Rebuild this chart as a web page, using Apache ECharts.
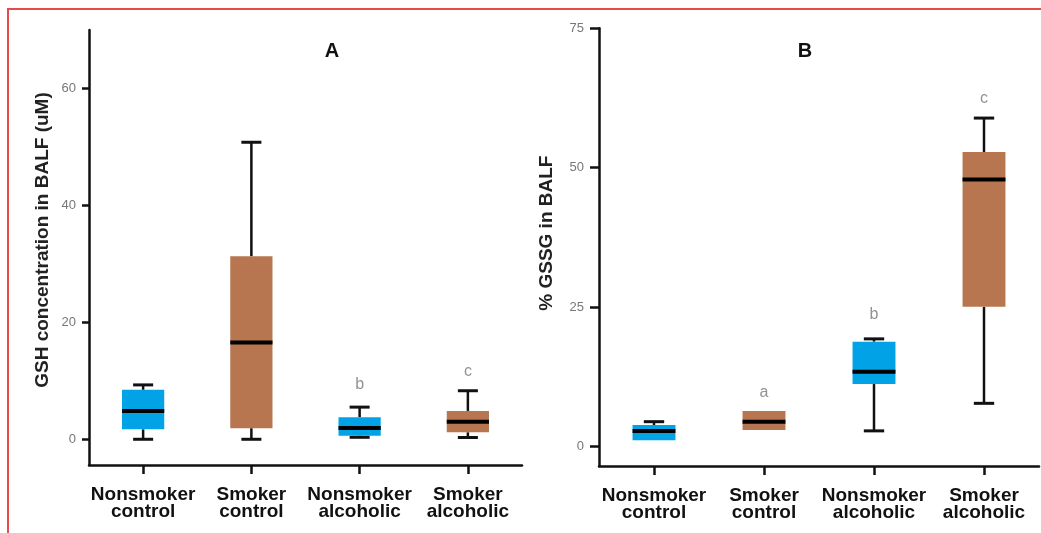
<!DOCTYPE html>
<html><head><meta charset="utf-8">
<script src="https://cdn.jsdelivr.net/npm/echarts@6/dist/echarts.min.js"></script>
<style>html,body{margin:0;padding:0;background:#fff}#c{width:1041px;height:533px}</style>
</head><body><div id="c"></div>
<script>
// ---------- data ----------
const categories = ['Nonsmoker\ncontrol', 'Smoker\ncontrol', 'Nonsmoker\nalcoholic', 'Smoker\nalcoholic'];

// Panel A: GSH concentration in BALF (uM)
const gshLow    = [0,    0,     0.34, 0.3];
const gshQ1     = [1.7,  1.9,   0.62, 1.2];
const gshMedian = [4.85, 16.55, 1.94, 3.0];
const gshQ3     = [8.45, 31.3,  3.77, 4.85];
const gshHigh   = [9.3,  50.8,  5.5,  8.3];
const gshLetters = ['', '', 'b', 'c'];
const gshLetterY = [null, null, 9.3, 11.6];
const gshTicks = [0, 20, 40, 60];

// Panel B: % GSSG in BALF
const gssgLow    = [1.1,  2.96, 2.8,  7.74];
const gssgQ1     = [1.1,  2.96, 11.2, 25.05];
const gssgMedian = [2.78, 4.45, 13.4, 47.9];
const gssgQ3     = [3.85, 6.36, 18.8, 52.8];
const gssgHigh   = [4.45, 6.36, 19.3, 58.9];
const gssgLetters = ['', 'a', 'b', 'c'];
const gssgLetterY = [null, 9.6, 23.6, 62.4];
const gssgTicks = [0, 25, 50, 75];

// ---------- styles ----------
const groupColors = ['#02a2e6', '#b7764f', '#02a2e6', '#b7764f'];
const FONT = 'Liberation Sans, Arial, sans-serif';
const INK = '#111';

function boxItem(params, api) {
  const i = api.value(0);
  const lo = api.value(1), q1 = api.value(2), md = api.value(3), q3 = api.value(4), hi = api.value(5);
  const band = api.size([1, 0])[0];
  const bw = band * 0.39, cw = band * 0.185;
  const y = v => api.coord([i, v])[1];
  const cx = api.coord([i, md])[0];
  const yLo = y(lo), yQ1 = y(q1), yMd = y(md), yQ3 = y(q3), yHi = y(hi);
  const children = [];
  const wl = {stroke: INK, lineWidth: 2.5};
  const cl = {stroke: INK, lineWidth: 3};
  if (hi > q3) {
    children.push({type: 'line', shape: {x1: cx, y1: yQ3, x2: cx, y2: yHi}, style: wl});
    children.push({type: 'line', shape: {x1: cx - cw / 2, y1: yHi, x2: cx + cw / 2, y2: yHi}, style: cl});
  }
  if (lo < q1) {
    children.push({type: 'line', shape: {x1: cx, y1: yQ1, x2: cx, y2: yLo}, style: wl});
    children.push({type: 'line', shape: {x1: cx - cw / 2, y1: yLo, x2: cx + cw / 2, y2: yLo}, style: cl});
  }
  children.push({type: 'rect', shape: {x: cx - bw / 2, y: yQ3, width: bw, height: yQ1 - yQ3}, style: {fill: groupColors[i]}});
  children.push({type: 'line', shape: {x1: cx - bw / 2, y1: yMd, x2: cx + bw / 2, y2: yMd}, style: {stroke: '#000', lineWidth: 4}});
  return {type: 'group', children};
}

function boxData(lo, q1, md, q3, hi) {
  return categories.map((c, i) => [i, lo[i], q1[i], md[i], q3[i], hi[i]]);
}
function letterData(letters, ys) {
  const out = [];
  letters.forEach((l, i) => { if (l) out.push({name: l, value: [i, ys[i]]}); });
  return out;
}

function xAxisCfg(gi) {
  return {
    type: 'category', gridIndex: gi, data: categories, boundaryGap: true,
    axisLine: {onZero: false, lineStyle: {color: INK, width: 2.5}},
    axisTick: {show: true, alignWithLabel: true, length: 9, lineStyle: {color: INK, width: 2.5}},
    axisLabel: {interval: 0, margin: 21, fontSize: 19, fontWeight: 'bold', color: INK, lineHeight: 17, fontFamily: FONT},
    splitLine: {show: false}
  };
}
function yAxisCfg(gi, min, max, ticks, name, gap, pad, tickLen, labMargin) {
  return {
    type: 'value', gridIndex: gi, min, max,
    axisLine: {show: true, onZero: false, lineStyle: {color: INK, width: 2.5}},
    axisTick: {show: true, length: tickLen, customValues: ticks, lineStyle: {color: INK, width: 2.5}},
    axisLabel: {customValues: ticks, fontSize: 13, color: '#777', margin: labMargin, fontFamily: FONT},
    splitLine: {show: false},
    name, nameLocation: 'middle', nameGap: gap, nameMoveOverlap: false,
    nameTextStyle: {fontSize: 19, fontWeight: 'bold', color: '#222', fontFamily: FONT, padding: pad}
  };
}

const chart = echarts.init(document.getElementById('c'), null, {renderer: 'canvas'});
chart.setOption({
  backgroundColor: '#fff',
  animation: false,
  grid: [
    {left: 89, top: 30, width: 433, height: 435, outerBoundsMode: 'none', containLabel: false},
    {left: 599, top: 28.3, width: 440, height: 437.7, outerBoundsMode: 'none', containLabel: false}
  ],
  xAxis: [xAxisCfg(0), xAxisCfg(1)],
  yAxis: [
    yAxisCfg(0, -4.4, 70, gshTicks, 'GSH concentration in BALF (uM)', 37, [0, 0, 0, 15], 7, 13),
    yAxisCfg(1, -3.5, 75, gssgTicks, '% GSSG in BALF', 43, [0, 0, 0, 28], 9, 15)
  ],
  series: [
    {type: 'custom', xAxisIndex: 0, yAxisIndex: 0, renderItem: boxItem, encode: {x: 0, y: [1, 2, 3, 4, 5]},
     data: boxData(gshLow, gshQ1, gshMedian, gshQ3, gshHigh)},
    {type: 'custom', xAxisIndex: 1, yAxisIndex: 1, renderItem: boxItem, encode: {x: 0, y: [1, 2, 3, 4, 5]},
     data: boxData(gssgLow, gssgQ1, gssgMedian, gssgQ3, gssgHigh)},
    {type: 'scatter', xAxisIndex: 0, yAxisIndex: 0, symbolSize: 0, silent: true,
     label: {show: true, position: 'inside', formatter: '{b}', fontSize: 16, color: '#777', fontFamily: FONT},
     data: letterData(gshLetters, gshLetterY)},
    {type: 'scatter', xAxisIndex: 1, yAxisIndex: 1, symbolSize: 0, silent: true,
     label: {show: true, position: 'inside', formatter: '{b}', fontSize: 16, color: '#777', fontFamily: FONT},
     data: letterData(gssgLetters, gssgLetterY)}
  ],
  graphic: [
    {type: 'rect', silent: true, z: 100, shape: {x: 8, y: 9, width: 1100, height: 600}, style: {fill: 'none', stroke: '#e84a4a', lineWidth: 2}},
    {type: 'text', silent: true, x: 332, y: 51, style: {text: 'A', font: 'bold 20px ' + FONT, align: 'center', verticalAlign: 'middle', fill: INK}},
    {type: 'text', silent: true, x: 805, y: 51, style: {text: 'B', font: 'bold 20px ' + FONT, align: 'center', verticalAlign: 'middle', fill: INK}}
  ]
});
</script></body></html>
